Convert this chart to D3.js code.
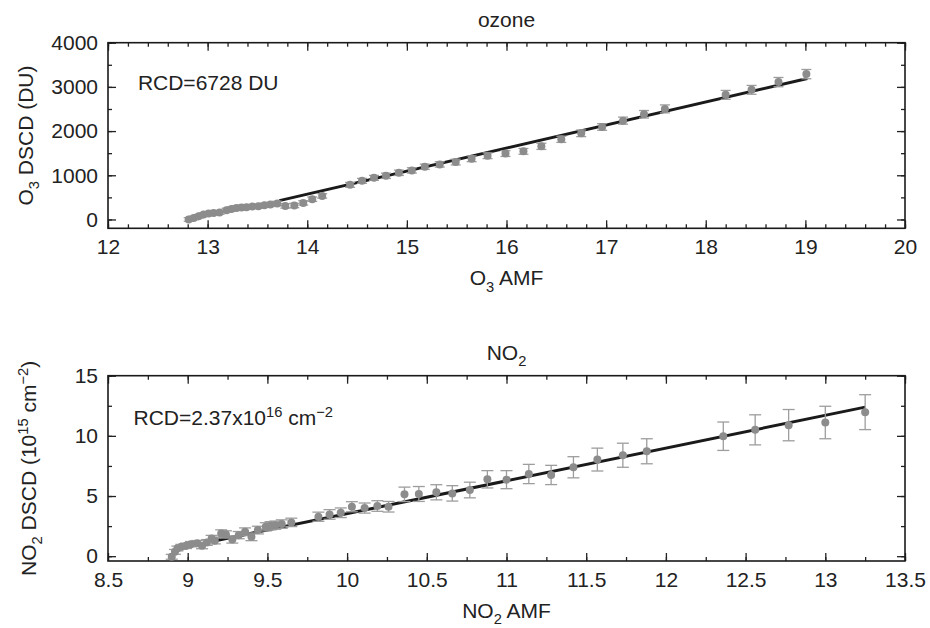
<!DOCTYPE html>
<html>
<head>
<meta charset="utf-8">
<script src="https://cdn.jsdelivr.net/npm/d3@7"></script>
<style>
body { margin: 0; background: #fff; }
svg text { font-family: "Liberation Sans", Arial, sans-serif; fill: #222; }
</style>
</head>
<body>
<svg id="chart" width="930" height="628"></svg>
<script>
// ozone panel
const ozoneAmf = [12.81, 12.86, 12.91, 12.96, 13.01, 13.06, 13.12, 13.19, 13.24, 13.29, 13.34, 13.39, 13.45, 13.51, 13.57, 13.63, 13.70, 13.78, 13.87, 13.96, 14.05, 14.15,
    14.43, 14.55, 14.67, 14.79, 14.92, 15.05, 15.18, 15.33, 15.49, 15.65, 15.81, 15.99,
    16.17, 16.35, 16.55, 16.75, 16.96, 17.17, 17.38, 17.59, 18.20, 18.46, 18.73, 19.01];
const ozoneDscd = [0, 34, 73, 111, 134, 148, 157, 209, 238, 261, 270, 277, 293, 300, 322, 338, 361, 306, 316, 375, 459, 533,
    783, 874, 942, 988, 1056, 1110, 1192, 1246, 1299, 1373, 1442, 1491,
    1541, 1655, 1814, 1950, 2093, 2236, 2381, 2502, 2820, 2933, 3108, 3289];
const ozoneErr = [40, 40, 40, 40, 40, 40, 40, 45, 45, 45, 45, 45, 45, 45, 45, 45, 50, 50, 50, 50, 50, 50,
    55, 55, 55, 60, 60, 60, 60, 60, 65, 65, 65, 65,
    65, 70, 70, 75, 75, 80, 85, 90, 100, 100, 105, 105];
const ozoneFitAmf = [13.72, 19.02];
const ozoneFitDscd = [427, 3191];
const ozoneXTicks = [12, 13, 14, 15, 16, 17, 18, 19, 20];
const ozoneYTicks = [0, 1000, 2000, 3000, 4000];

// NO2 panel
const no2Amf = [8.90, 8.92, 8.935, 8.96, 8.99, 9.02, 9.06, 9.09, 9.12, 9.15, 9.17, 9.21, 9.24, 9.28, 9.32, 9.36, 9.40, 9.44, 9.49, 9.52, 9.55, 9.59, 9.65,
    9.82, 9.89, 9.96, 10.03, 10.11, 10.19, 10.26,
    10.36, 10.45, 10.56, 10.66, 10.77, 10.88, 11.00,
    11.14, 11.28, 11.42, 11.57, 11.73, 11.88, 12.36, 12.56, 12.77, 13.00, 13.25];
const no2Dscd = [-0.05, 0.36, 0.64, 0.78, 0.86, 1.0, 1.08, 0.86, 1.14, 1.47, 1.28, 1.89, 1.81, 1.39, 1.75, 2.03, 1.61, 2.17, 2.44, 2.53, 2.58, 2.67, 2.81,
    3.28, 3.47, 3.61, 4.11, 4.0, 4.17, 4.11,
    5.14, 5.17, 5.31, 5.22, 5.5, 6.39, 6.36,
    6.83, 6.75, 7.39, 8.03, 8.39, 8.72, 9.97, 10.5, 10.89, 11.11, 11.97];
const no2Err = [0.2, 0.2, 0.2, 0.2, 0.22, 0.22, 0.22, 0.24, 0.24, 0.26, 0.26, 0.3, 0.3, 0.3, 0.3, 0.32, 0.32, 0.32, 0.34, 0.34, 0.34, 0.35, 0.35,
    0.38, 0.4, 0.4, 0.42, 0.42, 0.44, 0.44,
    0.6, 0.62, 0.63, 0.64, 0.65, 0.72, 0.75,
    0.8, 0.8, 0.88, 0.95, 1.0, 1.04, 1.18, 1.25, 1.3, 1.35, 1.45];
const no2FitAmf = [9.15, 13.25];
const no2FitDscd = [1.22, 12.39];
const no2XTicks = [8.5, 9, 9.5, 10, 10.5, 11, 11.5, 12, 12.5, 13, 13.5];
const no2YTicks = [0, 5, 10, 15];

const FONT = 21;
const svg = d3.select("#chart");

function rows(xs, ys, es) {
    return xs.map((x, i) => ({x: x, y: ys[i], e: es ? es[i] : 0}));
}

// tspan helper: parts = [[text, "n"|"sub"|"sup"], ...]
function richText(sel, parts, size) {
    let shift = 0;
    parts.forEach(p => {
        let target = p[1] == "sub" ? size * 0.3 : p[1] == "sup" ? -size * 0.4 : 0;
        sel.append("tspan")
            .attr("dy", target - shift)
            .style("font-size", (p[1] == "n" ? size : size * 0.7) + "px")
            .text(p[0]);
        shift = target;
    });
}

function drawPanel(cfg) {
    let x = d3.scaleLinear().domain(cfg.xDomain).range([cfg.left, cfg.right]);
    let y = d3.scaleLinear().domain(cfg.yDomain).range([cfg.bottom, cfg.top]);
    let g = svg.append("g");

    // [axis, major ticks, minor ticks, position, labelled, padding]
    let axes = [
        [d3.axisBottom(x), cfg.xTicks, cfg.xMinor, `translate(0,${cfg.bottom})`, true, 11],
        [d3.axisTop(x), cfg.xTicks, cfg.xMinor, `translate(0,${cfg.top})`, false, 11],
        [d3.axisLeft(y), cfg.yTicks, cfg.yMinor, `translate(${cfg.left},0)`, true, 10],
        [d3.axisRight(y), cfg.yTicks, cfg.yMinor, `translate(${cfg.right},0)`, false, 10]
    ];
    axes.forEach(a => {
        g.append("g")
            .attr("transform", a[3])
            .call(a[0].tickValues(a[2]).tickSizeInner(-4).tickSizeOuter(0).tickFormat(""))
            .call(s => s.select(".domain").remove())
            .selectAll("line").attr("stroke", "#222").attr("stroke-width", 1.3);
        let major = g.append("g")
            .attr("transform", a[3])
            .call(a[0].tickValues(a[1]).tickSizeInner(-8).tickSizeOuter(0)
                .tickPadding(a[5])
                .tickFormat(a[4] ? d => String(d) : ""))
            .call(s => s.select(".domain").remove());
        major.selectAll("line").attr("stroke", "#222").attr("stroke-width", 1.3);
        major.attr("font-size", null).attr("font-family", null)
            .selectAll("text").style("font-size", FONT + "px").attr("fill", "#222");
    });

    g.append("rect")
        .attr("x", cfg.left).attr("y", cfg.top)
        .attr("width", cfg.right - cfg.left).attr("height", cfg.bottom - cfg.top)
        .attr("fill", "none").attr("stroke", "#1a1a1a").attr("stroke-width", 1.6);

    // fit line
    let line = d3.line().x(d => x(d.x)).y(d => y(d.y));
    g.append("path")
        .datum(rows(cfg.fitX, cfg.fitY))
        .attr("d", line)
        .attr("fill", "none")
        .attr("stroke", "#1a1a1a")
        .attr("stroke-width", 3);

    let data = rows(cfg.xs, cfg.ys, cfg.es);
    let bars = g.append("g").attr("stroke", "#9d9d9d").attr("stroke-width", 1.3);
    bars.selectAll("line.v").data(data).enter().append("line")
        .attr("x1", d => x(d.x)).attr("x2", d => x(d.x))
        .attr("y1", d => y(d.y - d.e)).attr("y2", d => y(d.y + d.e));
    bars.selectAll("line.t").data(data).enter().append("line")
        .attr("x1", d => x(d.x) - cfg.cap).attr("x2", d => x(d.x) + cfg.cap)
        .attr("y1", d => y(d.y + d.e)).attr("y2", d => y(d.y + d.e));
    bars.selectAll("line.b").data(data).enter().append("line")
        .attr("x1", d => x(d.x) - cfg.cap).attr("x2", d => x(d.x) + cfg.cap)
        .attr("y1", d => y(d.y - d.e)).attr("y2", d => y(d.y - d.e));

    g.append("g").selectAll("circle").data(data).enter().append("circle")
        .attr("cx", d => x(d.x)).attr("cy", d => y(d.y))
        .attr("r", 4)
        .attr("fill", "#8c8c8c");

    let mid = (cfg.left + cfg.right) / 2;
    richText(g.append("text").attr("x", mid).attr("y", cfg.top - 16).attr("text-anchor", "middle"), cfg.title, FONT);
    richText(g.append("text").attr("x", mid).attr("y", cfg.bottom + 57).attr("text-anchor", "middle"), cfg.xLabel, FONT);
    richText(g.append("text")
        .attr("transform", `translate(${cfg.yLabelX},${(cfg.top + cfg.bottom) / 2}) rotate(-90)`)
        .attr("text-anchor", "middle"), cfg.yLabel, FONT);
    richText(g.append("text").attr("x", x(cfg.note[0])).attr("y", y(cfg.note[1])), cfg.noteText, 21);
}

drawPanel({
    left: 108, right: 905, top: 42.7, bottom: 228.3,
    xDomain: [12, 20], yDomain: [-200, 4000],
    xTicks: ozoneXTicks, xMinor: d3.range(12, 20.01, 0.2),
    yTicks: ozoneYTicks, yMinor: d3.range(0, 4001, 500),
    xs: ozoneAmf, ys: ozoneDscd, es: ozoneErr,
    fitX: ozoneFitAmf, fitY: ozoneFitDscd,
    cap: 5,
    title: [["ozone", "n"]],
    xLabel: [["O", "n"], ["3", "sub"], [" AMF", "n"]],
    yLabel: [["O", "n"], ["3", "sub"], [" DSCD (DU)", "n"]],
    yLabelX: 33,
    note: [12.3, 2933],
    noteText: [["RCD=6728 DU", "n"]]
});

drawPanel({
    left: 108, right: 905, top: 375.7, bottom: 561,
    xDomain: [8.5, 13.5], yDomain: [-0.4, 15],
    xTicks: no2XTicks, xMinor: d3.range(8.5, 13.51, 0.25),
    yTicks: no2YTicks, yMinor: d3.range(0, 15.01, 2.5),
    xs: no2Amf, ys: no2Dscd, es: no2Err,
    fitX: no2FitAmf, fitY: no2FitDscd,
    cap: 6,
    title: [["NO", "n"], ["2", "sub"]],
    xLabel: [["NO", "n"], ["2", "sub"], [" AMF", "n"]],
    yLabel: [["NO", "n"], ["2", "sub"], [" DSCD (10", "n"], ["15", "sup"], [" cm", "n"], ["\u22122", "sup"], [")", "n"]],
    yLabelX: 36,
    note: [8.66, 10.9],
    noteText: [["RCD=2.37x10", "n"], ["16", "sup"], [" cm", "n"], ["\u22122", "sup"]]
});
</script>
</body>
</html>
